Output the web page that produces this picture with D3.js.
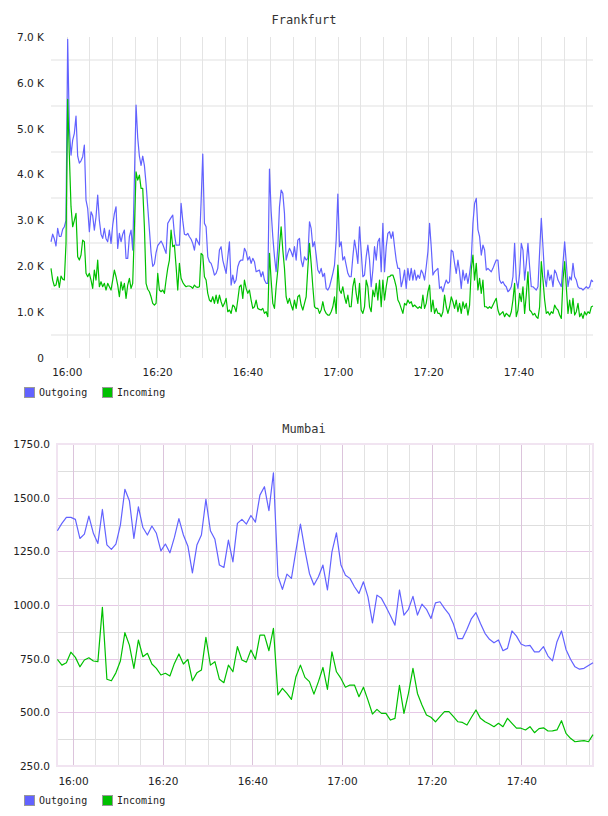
<!DOCTYPE html>
<html>
<head>
<meta charset="utf-8">
<script src="https://cdn.jsdelivr.net/npm/d3@7"></script>
<style>
body { margin: 0; background: #fff; }
svg { display: block; }
.tick text { font-family: "DejaVu Sans", sans-serif; font-size: 10.5px; fill: #222; }
.title { font-family: "DejaVu Sans Mono", monospace; font-size: 12px; fill: #333; }
.legend text { font-family: "DejaVu Sans Mono", monospace; font-size: 10px; fill: #222; }
</style>
</head>
<body>
<svg id="chart" width="608" height="816"></svg>
<script>
// --- data -------------------------------------------------------------
var seriesNames = ["Outgoing", "Incoming"];
var seriesColors = ["#6262ff", "#00c000"];

// Frankfurt, sampled evenly between 15:56:30 and 17:56:30
var fraOut = [
  2535, 2700, 2600, 2442, 2827, 2650, 2650, 2805, 2862, 3000,
  6950, 5000, 4425, 4750, 4900, 5275, 4400, 4250, 4300, 4390,
  4643, 3444, 3263, 2753, 3189, 3100, 2790, 3080, 3553, 3000,
  2700, 2609, 2827, 2600, 2535, 2790, 2500, 2900, 3150, 3298,
  2391, 2718, 2535, 2700, 2790, 2173, 2173, 2645, 2790, 2354,
  3900, 5515, 4800, 4400, 4200, 4400, 4200, 3800, 3300, 2800,
  2300, 2000, 2050, 2300, 2450, 2500, 2550, 2480, 2380, 2282,
  2936, 3000, 3060, 3117, 2700, 2463, 2463, 2463, 3372, 3000,
  2700, 2681, 2718, 2645, 2590, 2500, 2354, 2609, 2535,
  2463, 3400, 4447, 2936, 2862, 2208, 2100, 2064, 1955, 1809,
  1846, 1955, 2354, 2427, 2136, 1990, 1846, 2200, 2535, 1591,
  1809, 1628, 1700, 1990, 2100, 2136, 2136, 2391, 2318, 2136,
  2208, 2064, 2173, 2100, 1881, 1900, 1918, 1772, 1881, 1700,
  1628, 1628, 4120, 3200, 2645, 2208, 1881, 2427, 3298, 3662,
  3590, 3154, 2136, 2282, 2391, 2318, 2208, 2427, 2136, 2572,
  2609, 2136, 1990, 2208, 2136, 2173, 2971, 2827, 2427, 2535,
  2245, 1918, 1846, 1955, 1772, 1846, 1519, 1482, 1554, 1700,
  1846, 2027, 2572, 3575, 2427, 2535, 2136, 2208, 2027, 1846,
  1772, 1772, 2208, 2572, 2354, 2064, 2862, 2318, 1772, 1809,
  2208, 2463, 2136, 1554, 1918, 2427, 2136, 2535, 2609, 1881,
  2936, 1881, 2427, 2718, 2753, 2609, 2753, 2427, 2136, 1955,
  1955, 1554, 1700, 1918, 1519, 1955, 1700, 1955, 1700, 1918,
  1700, 1809, 1737, 1918, 1846, 1700, 1990, 2318, 2936, 2427,
  1809, 1881, 1918, 1955, 1519, 1554, 1445, 1591, 1700, 1628,
  1663, 2354, 2318, 2064, 1846, 2136, 1881, 1519, 1918, 1700,
  1846, 1628, 1846, 2136, 2936, 3372, 3481, 2800, 2645, 2245,
  2463, 2354, 1918, 1955, 1918, 1881, 1955, 2050, 2136, 2136,
  1700, 1628, 1663, 1591, 1554, 1445, 1482, 1554, 1772, 2500,
  1700, 1519, 1846, 2500, 2354, 1700, 2064, 2500, 1990, 1554,
  1554, 1519, 1482, 1554, 2318, 3046, 2427, 1772, 1554, 1918,
  1700, 1809, 1554, 1918, 1846, 1700, 1628, 1554, 2064, 2535,
  2064, 1554, 1772, 1700, 2064, 1772, 1700, 1554, 1519, 1519,
  1482, 1519, 1554, 1519, 1554, 1700, 1663
];
var fraIn = [
  1955, 1700, 1570, 1591, 1772, 1541, 1788, 1720, 1700, 2500,
  5640, 4425, 3300, 2862, 3000, 3154, 2208, 2136, 2245, 2572,
  2535, 1846, 1772, 1846, 1700, 1519, 1918, 1700, 2136, 1554,
  1663, 1554, 1628, 1482, 1628, 1554, 1482, 1700, 1918, 1772,
  1591, 1336, 1663, 1482, 1628, 1301, 1591, 1737, 1519, 1628,
  2800, 4061, 3880, 3989, 3700, 3700, 2862, 1628, 1500, 1445,
  1336, 1192, 1155, 1192, 1846, 1482, 1445, 1482, 1410, 1700,
  1955, 2136, 2790, 2427, 2463, 2000, 1482, 2064, 1737, 1650,
  1591, 1554, 1570, 1570, 1554, 1519, 1591, 1550, 1541,
  1554, 2282, 2245, 1772, 1700, 1410, 1264, 1227, 1336, 1192,
  1373, 1192, 1373, 1227, 1118, 1192, 1301, 1009, 1046, 973,
  1155, 1118, 1009, 1264, 1554, 1591, 1301, 1700, 1519, 1410,
  1482, 1264, 1082, 1118, 1264, 1082, 1060, 1046, 1082, 973,
  1009, 900, 2282, 1700, 1192, 1082, 1554, 1918, 2427, 2862,
  2354, 1955, 1336, 1192, 1301, 1155, 1046, 1264, 1082, 1336,
  1373, 1155, 1046, 1192, 1336, 1955, 2500, 2064, 1554, 1118,
  1082, 1082, 973, 1046, 1227, 1046, 973, 937, 937, 1009,
  1118, 1336, 973, 2027, 1482, 1410, 1554, 1336, 1192, 1373,
  1118, 1118, 1554, 1737, 1410, 1192, 1628, 1046, 973, 1118,
  1700, 1554, 1118, 1009, 1482, 1336, 1628, 1264, 1700, 1118,
  1700, 1264, 1554, 1772, 1772, 1809, 1809, 1700, 1554, 1264,
  1192, 1082, 973, 1192, 1155, 1264, 1192, 1227, 1118, 1155,
  1118, 1082, 1118, 1082, 1373, 1082, 1192, 1445, 1591, 1009,
  1264, 973, 1082, 973, 973, 900, 1009, 1373, 1118, 973,
  1118, 1336, 1227, 1082, 1264, 1009, 1192, 973, 1227, 1082,
  1192, 937, 1155, 1918, 2245, 1700, 2064, 1482, 1737, 1410,
  1700, 1118, 1118, 1082, 1118, 1082, 1155, 1230, 1301, 1046,
  937, 973, 1009, 900, 973, 937, 900, 1009, 1264, 1628,
  900, 1046, 1410, 1227, 1554, 973, 1373, 1881, 1046, 1009,
  937, 973, 900, 864, 1118, 2100, 1700, 1264, 973, 1009,
  937, 1009, 973, 1155, 1082, 1046, 937, 864, 1700, 2100,
  1554, 973, 1264, 973, 1301, 937, 1009, 1192, 900, 973,
  864, 1009, 937, 1009, 973, 1118, 1133
];

// Mumbai, one sample a minute
var mumOut = [
  1346, 1380, 1408, 1408, 1399, 1310, 1330, 1414, 1334, 1287,
  1445, 1280, 1259, 1284, 1372, 1539, 1486, 1310, 1457, 1361,
  1326, 1368, 1334, 1252, 1284, 1243, 1315, 1402, 1326, 1274,
  1150, 1279, 1326, 1492, 1346, 1306, 1186, 1175, 1302, 1201,
  1380, 1399, 1377, 1417, 1386, 1512, 1551, 1439, 1616, 1135,
  1073, 1144, 1124, 1253, 1377, 1256, 1147, 1093, 1132, 1186,
  1070, 1247, 1336, 1186, 1139, 1124, 1085, 1054, 1108, 1038,
  917, 1046, 1031, 992, 950, 906, 1070, 953, 980, 1040,
  953, 1004, 980, 937, 1010, 1015, 984, 958, 911, 843,
  843, 887, 937, 964, 914, 868, 840, 824, 837, 787,
  798, 879, 855, 818, 809, 812, 782, 782, 806, 762,
  740, 829, 879, 793, 747, 712, 701, 705, 718, 731
];
var mumIn = [
  747, 720, 731, 780, 756, 712, 744, 754, 739, 736,
  989, 654, 647, 684, 739, 871, 813, 705, 837, 759,
  775, 725, 705, 674, 682, 669, 728, 772, 725, 747,
  647, 684, 697, 849, 720, 736, 654, 638, 720, 689,
  806, 744, 734, 790, 747, 860, 860, 787, 891, 581,
  612, 588, 560, 666, 720, 663, 643, 585, 643, 709,
  607, 782, 689, 658, 617, 627, 627, 573, 617, 557,
  492, 514, 495, 495, 464, 472, 626, 495, 588, 705,
  588, 534, 488, 477, 456, 480, 503, 503, 480, 456,
  453, 441, 477, 511, 472, 456, 446, 433, 449, 433,
  472, 449, 426, 426, 418, 433, 405, 424, 428, 413,
  414, 418, 461, 402, 379, 363, 366, 368, 363, 396
];

var fraYTicks = [0, 1000, 2000, 3000, 4000, 5000, 6000, 7000];
var fraYGrid = [500, 1500, 2500, 3500, 4500, 5500, 6500];
var mumYTicks = [250, 500, 750, 1000, 1250, 1500, 1750];
var mumYMinor = [375, 625, 875, 1125, 1375, 1625];

// --- helpers ----------------------------------------------------------
function at(h, m, s) { return new Date(2000, 0, 1, h, m, s || 0); }

function spread(t0, t1, n) {
  return d3.range(n).map(function (i) { return new Date(+t0 + (t1 - t0) * i / (n - 1)); });
}

var svg = d3.select("#chart");

function drawChart(o) {
  var g = svg.append("g");
  var x = d3.scaleTime().domain(o.xDomain).range([o.left, o.right]);
  var y = d3.scaleLinear().domain(o.yDomain).range([o.bottom, o.top]);

  g.append("text").attr("class", "title")
    .attr("x", (o.left + o.right) / 2 + o.titleShift).attr("y", o.titleY)
    .attr("text-anchor", "middle").text(o.title);

  // horizontal grid
  o.hGrid.forEach(function (gr) {
    g.selectAll(null).data(gr.values).enter().append("line")
      .attr("x1", o.left).attr("x2", o.right)
      .attr("y1", function (d) { return Math.round(y(d)) + gr.off; })
      .attr("y2", function (d) { return Math.round(y(d)) + gr.off; })
      .attr("stroke", gr.color).attr("stroke-width", gr.width);
  });

  // vertical grid, every 5 minutes
  var fives = d3.timeMinute.every(5).range(o.xDomain[0], o.xDomain[1]);
  g.selectAll(null).data(fives).enter().append("line")
    .attr("x1", function (d) { return Math.round(x(d)) + 0.5; })
    .attr("x2", function (d) { return Math.round(x(d)) + 0.5; })
    .attr("y1", o.top).attr("y2", o.bottom)
    .attr("stroke", function (d) {
      return d.getMinutes() % 20 === 0 ? o.vMajor : o.vMinor;
    });

  if (o.border) {
    g.append("rect").attr("x", o.left).attr("y", o.top)
      .attr("width", o.right - o.left).attr("height", o.bottom - o.top)
      .attr("fill", "none").attr("stroke", o.border).attr("stroke-width", 2);
  }

  // lines
  var line = d3.line()
    .x(function (d) { return x(d[0]); })
    .y(function (d) { return y(d[1]); });
  o.series.forEach(function (vals, i) {
    g.append("path")
      .datum(vals.map(function (v, k) { return [o.times[k], v]; }))
      .attr("fill", "none").attr("stroke", seriesColors[i])
      .attr("stroke-width", 1.2).attr("stroke-linejoin", "round")
      .attr("d", line);
  });

  // axes
  var yAxis = g.append("g").attr("transform", "translate(" + o.left + ",0)")
    .call(d3.axisLeft(y).tickValues(o.yTicks).tickFormat(o.yFormat)
      .tickSize(0).tickPadding(7));
  yAxis.select(".domain").remove();

  var xAxis = g.append("g").attr("transform", "translate(0," + o.bottom + ")")
    .call(d3.axisBottom(x).ticks(d3.timeMinute.every(20))
      .tickFormat(d3.timeFormat("%H:%M")).tickSize(0).tickPadding(o.xPad));
  xAxis.select(".domain").remove();

  // legend
  var lg = g.append("g").attr("class", "legend")
    .attr("transform", "translate(0," + o.legendY + ")");
  var lx = [24, 102];
  seriesNames.forEach(function (name, i) {
    lg.append("rect").attr("x", lx[i] + 0.5).attr("y", 0.5)
      .attr("width", 10).attr("height", 10)
      .attr("fill", seriesColors[i]).attr("stroke", "#999");
    lg.append("text").attr("x", lx[i] + 15).attr("y", 9).text(name);
  });
}

drawChart({
  title: "Frankfurt", titleY: 24, titleShift: -18,
  left: 51, right: 593, top: 37, bottom: 358,
  xDomain: [at(15, 56, 30), at(17, 56, 30)],
  yDomain: [0, 7000],
  yTicks: fraYTicks,
  yFormat: function (v) { return v === 0 ? "0" : (v / 1000).toFixed(1) + " K"; },
  hGrid: [{ values: fraYGrid, color: "#f0f0f0", width: 2, off: 0 }],
  vMajor: "#e4e4e4", vMinor: "#e4e4e4",
  border: null,
  times: spread(at(15, 56, 30), at(17, 56, 30), fraOut.length),
  series: [fraOut, fraIn],
  xPad: 11, legendY: 387
});

drawChart({
  title: "Mumbai", titleY: 433, titleShift: -21,
  left: 57, right: 593, top: 444, bottom: 766,
  xDomain: [at(15, 56, 25), at(17, 56, 0)],
  yDomain: [250, 1750],
  yTicks: mumYTicks,
  yFormat: function (v) { return v.toFixed(1); },
  hGrid: [
    { values: mumYMinor, color: "#dedede", width: 1, off: 0.5 },
    { values: mumYTicks.slice(1, -1), color: "#e6c8e6", width: 1, off: 0.5 }
  ],
  vMajor: "#dcc4dc", vMinor: "#e2e2e2",
  border: "#f1e4f1",
  times: spread(at(15, 56, 30), at(17, 56, 0), mumOut.length),
  series: [mumOut, mumIn],
  xPad: 12, legendY: 795
});
</script>
</body>
</html>
